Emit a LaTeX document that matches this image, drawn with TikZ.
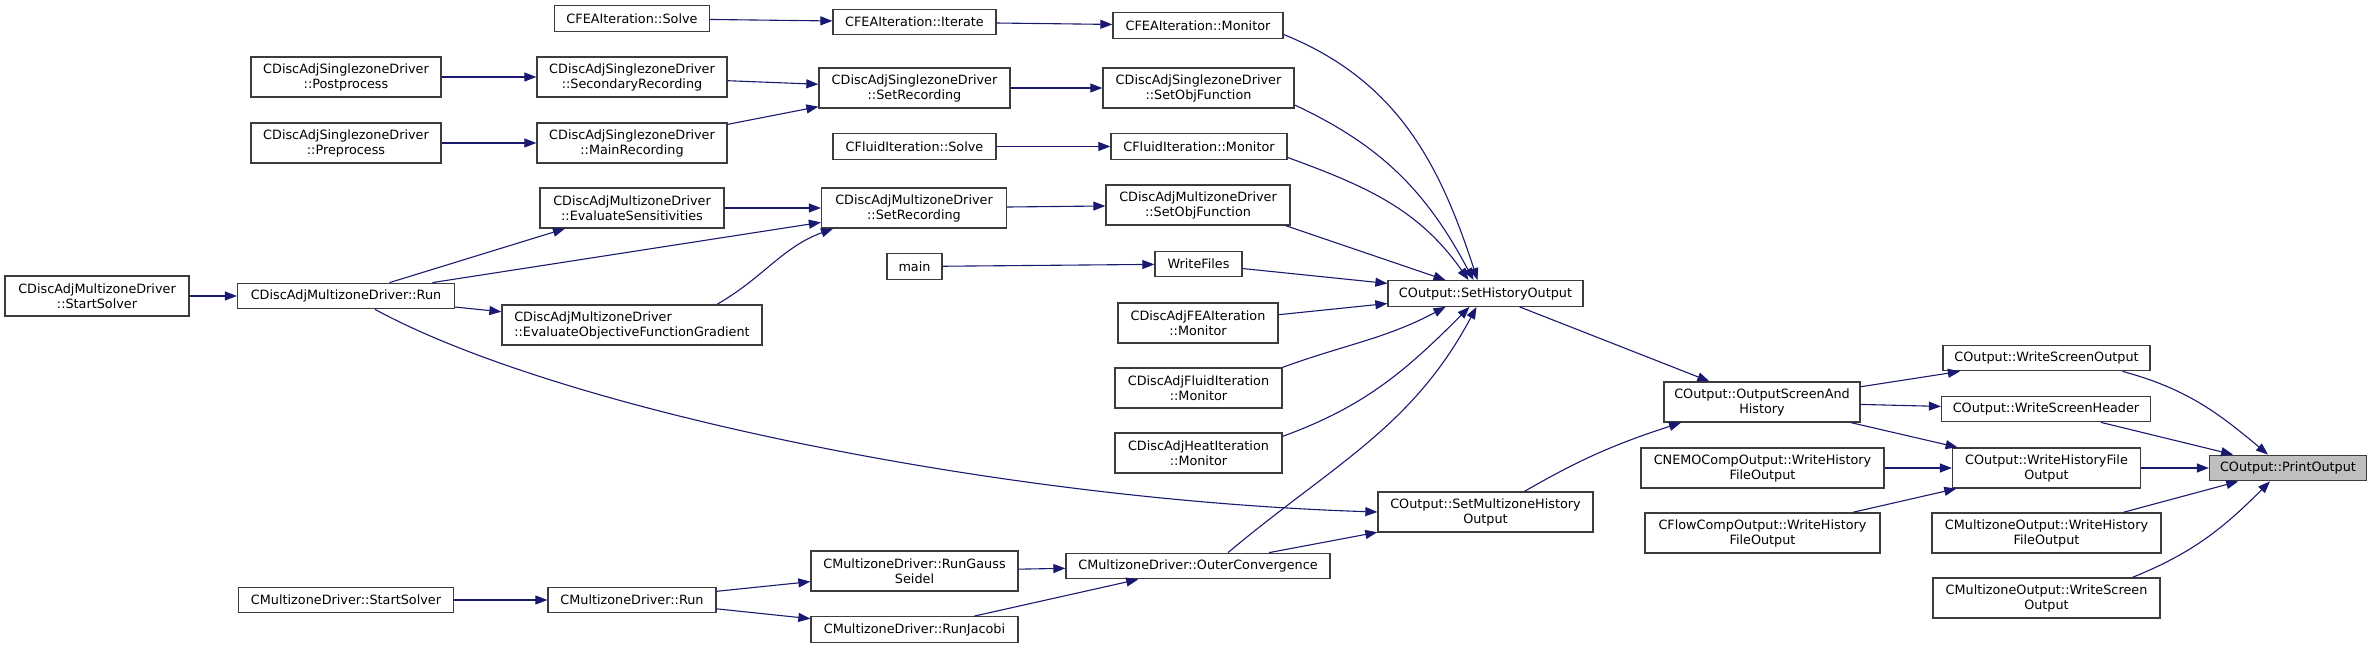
\documentclass[tikz,border=0pt]{standalone}
\usepackage{fontspec}
\setmainfont{DejaVu Sans}
\usetikzlibrary{arrows.meta}
\definecolor{edgeblue}{RGB}{25,25,112}
\definecolor{boxline}{RGB}{60,60,60}
\definecolor{rootfill}{RGB}{191,191,191}

\begin{document}
\begin{tikzpicture}[
    x=1pt, y=1pt,
    fn/.style={draw=boxline, line width=1.3pt, fill=white, align=center,
               minimum height=25.5pt, inner xsep=9pt, inner ysep=3pt,
               font=\fontsize{12.8}{15}\selectfont},
    fntwo/.style={fn, minimum height=40pt},
    >={Triangle[length=12pt, width=9pt]},
    call/.style={->, draw=edgeblue, line width=1.1pt}
  ]
  \useasboundingbox (0,0) rectangle (2372,648);

  % callers, left to right
  \node[fn, minimum width=155pt] (feasolve) at (632,629.5) {CFEAIteration::Solve};
  \node[fn, minimum width=163pt] (feaiter) at (914.5,626) {CFEAIteration::Iterate};
  \node[fn, minimum width=170pt] (feamon) at (1198,622.5) {CFEAIteration::Monitor};

  \node[fntwo, minimum width=190pt] (szpost) at (346,571) {CDiscAdjSinglezoneDriver\\::Postprocess};
  \node[fntwo, minimum width=190pt] (szsec) at (632,571) {CDiscAdjSinglezoneDriver\\::SecondaryRecording};
  \node[fntwo, minimum width=191pt] (szrec) at (914.5,560) {CDiscAdjSinglezoneDriver\\::SetRecording};
  \node[fntwo, minimum width=191pt] (szobj) at (1198.5,560) {CDiscAdjSinglezoneDriver\\::SetObjFunction};
  \node[fntwo, minimum width=190pt] (szpre) at (346,505) {CDiscAdjSinglezoneDriver\\::Preprocess};
  \node[fntwo, minimum width=190pt] (szmain) at (632,505) {CDiscAdjSinglezoneDriver\\::MainRecording};

  \node[fn, minimum width=163pt] (flsolve) at (914.5,501.5) {CFluidIteration::Solve};
  \node[fn, minimum width=176pt] (flmon) at (1199,501.5) {CFluidIteration::Monitor};

  \node[fntwo, minimum width=184pt] (mzsens) at (632,440) {CDiscAdjMultizoneDriver\\::EvaluateSensitivities};
  \node[fntwo, minimum width=185pt] (mzrec) at (914,440) {CDiscAdjMultizoneDriver\\::SetRecording};
  \node[fntwo, minimum width=184pt] (mzobj) at (1198,443) {CDiscAdjMultizoneDriver\\::SetObjFunction};
  \node[fn, minimum width=55pt] (main) at (914.5,381.5) {main};
  \node[fn, minimum width=87pt] (wfiles) at (1198.5,384) {WriteFiles};
  \node[fn, minimum width=195pt] (sho) at (1485.5,354.5) {COutput::SetHistoryOutput};

  \node[fntwo, minimum width=184pt] (dmzstart) at (97,352) {CDiscAdjMultizoneDriver\\::StartSolver};
  \node[fn, minimum width=217pt] (dmzrun) at (346,352) {CDiscAdjMultizoneDriver::Run};
  \node[fntwo, minimum width=260pt, align=left] (mzgrad) at (632,323)
    {CDiscAdjMultizoneDriver\\::EvaluateObjectiveFunctionGradient};

  \node[fntwo, minimum width=160pt] (feaadj) at (1198,325) {CDiscAdjFEAIteration\\::Monitor};
  \node[fntwo, minimum width=167pt] (fladj) at (1198.5,260) {CDiscAdjFluidIteration\\::Monitor};
  \node[fntwo, minimum width=167pt] (htadj) at (1198.5,195) {CDiscAdjHeatIteration\\::Monitor};
  \node[fntwo, minimum width=215pt] (smho) at (1485.5,136) {COutput::SetMultizoneHistory\\Output};

  \node[fntwo, minimum width=207pt] (gauss) at (914.5,77) {CMultizoneDriver::RunGauss\\Seidel};
  \node[fn, minimum width=264pt] (outer) at (1198,82) {CMultizoneDriver::OuterConvergence};
  \node[fn, minimum width=207pt] (jacobi) at (914.5,18.5) {CMultizoneDriver::RunJacobi};
  \node[fn, minimum width=215pt] (cmstart) at (346,48) {CMultizoneDriver::StartSolver};
  \node[fn, minimum width=168pt] (cmrun) at (632,48) {CMultizoneDriver::Run};

  % output side
  \node[fntwo, minimum width=196pt] (osh) at (1762,246) {COutput::OutputScreenAnd\\History};
  \node[fn, minimum width=207pt] (wso) at (2046.5,290) {COutput::WriteScreenOutput};
  \node[fn, minimum width=209pt] (wsh) at (2046,239) {COutput::WriteScreenHeader};
  \node[fntwo, minimum width=243pt] (nemo) at (1762.5,180) {CNEMOCompOutput::WriteHistory\\FileOutput};
  \node[fntwo, minimum width=188pt] (whf) at (2046.5,180) {COutput::WriteHistoryFile\\Output};
  \node[fn, minimum width=157pt, fill=rootfill] (print) at (2288,180) {COutput::PrintOutput};
  \node[fntwo, minimum width=235pt] (flow) at (1762.5,115) {CFlowCompOutput::WriteHistory\\FileOutput};
  \node[fntwo, minimum width=229pt] (mzwhf) at (2046.5,115) {CMultizoneOutput::WriteHistory\\FileOutput};
  \node[fntwo, minimum width=227pt] (mzws) at (2046.5,50) {CMultizoneOutput::WriteScreen\\Output};

  % calls
  \draw[call] (feasolve) -- (feaiter);
  \draw[call] (feaiter) -- (feamon);
  \draw[call] (szpost) -- (szsec);
  \draw[call] (szpre) -- (szmain);
  \draw[call] (szsec) -- (szrec);
  \draw[call] (szmain) -- (szrec);
  \draw[call] (szrec) -- (szobj);
  \draw[call] (flsolve) -- (flmon);
  \draw[call] (dmzstart) -- (dmzrun);
  \draw[call] (dmzrun) -- (mzsens);
  \draw[call] (dmzrun) -- (mzrec);
  \draw[call] (dmzrun) -- (mzgrad);
  \draw[call] (mzsens) -- (mzrec);
  \draw[call] ([xshift=85pt]mzgrad.north) to[out=30, in=-160] ([xshift=-81pt]mzrec.south);
  \draw[call] (mzrec) -- (mzobj);
  \draw[call] (main) -- (wfiles);
  \draw[call] ([xshift=29pt]dmzrun.south) .. controls (560,238) and (1000,148) .. (smho.west);
  \draw[call] (cmstart) -- (cmrun);
  \draw[call] (cmrun) -- (gauss);
  \draw[call] (cmrun) -- (jacobi);
  \draw[call] (gauss) -- (outer);
  \draw[call] (jacobi) -- (outer);
  \draw[call] (outer) -- (smho);

  \draw[call] ([yshift=-9pt]feamon.east) to[out=-22, in=108] ([xshift=-8pt]sho.north);
  \draw[call] ([yshift=-17pt]szobj.east) to[out=-25, in=118] ([xshift=-12pt]sho.north);
  \draw[call] ([yshift=-11pt]flmon.east) to[out=-20, in=125] ([xshift=-17pt]sho.north);
  \draw[call] ([xshift=-5pt]mzobj.south east) -- ([xshift=-40pt]sho.north);
  \draw[call] (wfiles) -- (sho);
  \draw[call] (feaadj) -- (sho);
  \draw[call] (fladj.north east) to[out=20, in=-152] ([xshift=-40pt]sho.south);
  \draw[call] ([yshift=-4pt]htadj.north east) to[out=20, in=-135] ([xshift=-16pt]sho.south);
  \draw[call] ([xshift=30pt]outer.north) to[out=40, in=-118] ([xshift=-9pt]sho.south);

  \draw[call] (sho) -- (osh);
  \draw[call] ([xshift=39pt]smho.north) to[out=30, in=-162] ([xshift=-81pt]osh.south);
  \draw[call] (osh) -- (wso);
  \draw[call] (osh) -- (wsh);
  \draw[call] (osh) -- (whf);
  \draw[call] (nemo) -- (whf);
  \draw[call] (flow) -- (whf);

  \draw[call] ([xshift=76pt]wso.south) to[out=-15, in=140] ([xshift=-20pt]print.north);
  \draw[call] (wsh) -- (print);
  \draw[call] (whf) -- (print);
  \draw[call] (mzwhf) -- (print);
  \draw[call] ([xshift=86pt]mzws.north) to[out=22, in=-135] ([xshift=-18pt]print.south);
\end{tikzpicture}
\end{document}
